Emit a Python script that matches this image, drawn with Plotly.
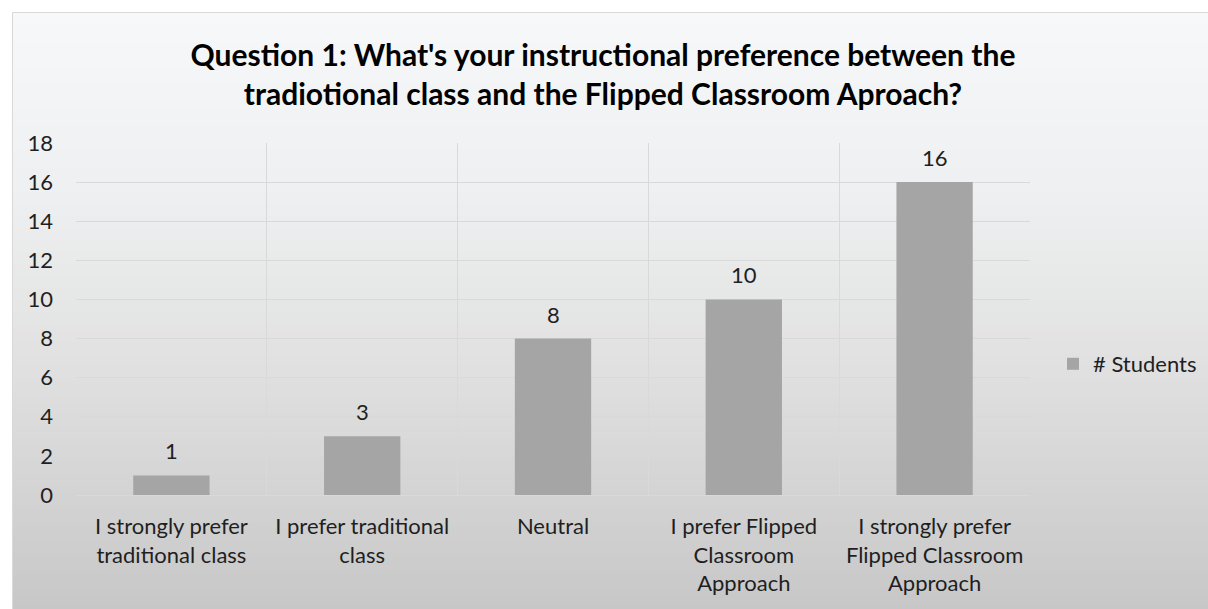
import plotly.graph_objects as go

categories = [
    "I strongly prefer<br>traditional class",
    "I prefer traditional<br>class",
    "Neutral",
    "I prefer Flipped<br>Classroom<br>Approach",
    "I strongly prefer<br>Flipped Classroom<br>Approach",
]
students = [1, 3, 8, 10, 16]
series_name = "# Students"
title_text = ("<b>Question 1: What's your instructional preference between the<br>"
              "tradiotional class and the Flipped Classroom Aproach?</b>")

W, H = 1208, 609
L, R, T, B = 76, 1030, 143, 495  # plot area in pixels

FONT = "Lato"
FS = 22
TXT = "#1f1f1f"

fig = go.Figure()
fig.add_trace(go.Bar(
    x=categories, y=students, name=series_name,
    marker=dict(color="#a5a5a5", line=dict(width=0)),
    showlegend=True, hoverinfo="x+y",
))

# data labels above bars
annotations = [
    dict(x=c, y=v, xref="x", yref="y", text=str(v), showarrow=False,
         yanchor="bottom", yshift=9, font=dict(family=FONT, size=FS, color=TXT))
    for c, v in zip(categories, students)
]

# background gradient (styling only)
def px2x(p):
    return (p - L) / (R - L)

def px2y(p):
    return (B - p) / (B - T)

stops = [(12, (246, 248, 250)), (200, (238, 239, 240)), (350, (226, 226, 226)),
         (480, (213, 213, 213)), (609, (199, 199, 199))]

def col_at(py):
    for (y0, c0), (y1, c1) in zip(stops[:-1], stops[1:]):
        if y0 <= py <= y1:
            t = (py - y0) / (y1 - y0)
            return tuple(round(a + (b - a) * t) for a, b in zip(c0, c1))
    return stops[-1][1]

shapes = []
step = 6
py = 12
while py < H:
    c = col_at(py + step / 2)
    shapes.append(dict(type="rect", xref="paper", yref="paper", layer="below",
                       x0=px2x(12), x1=px2x(W + 5), y0=px2y(py), y1=px2y(min(py + step, H + 5)),
                       fillcolor="rgb(%d,%d,%d)" % c, line=dict(width=0)))
    py += step
shapes.append(dict(type="rect", xref="paper", yref="paper", layer="below",
                   x0=px2x(12.5), x1=px2x(W + 5), y0=px2y(12.5), y1=px2y(H + 5),
                   fillcolor="rgba(0,0,0,0)", line=dict(width=1, color="#d9d9d9")))

fig.update_layout(
    width=W, height=H,
    margin=dict(l=L, r=W - R, t=T, b=H - B, pad=0, autoexpand=False),
    paper_bgcolor="white",
    plot_bgcolor="rgba(0,0,0,0)",
    font=dict(family=FONT, size=FS, color=TXT),
    title=dict(text=title_text, x=603 / W, xanchor="center", xref="container",
               y=1 - 66 / H, yanchor="top",
               font=dict(family=FONT, size=30, color="#000000")),
    bargap=0.6,
    shapes=shapes,
    annotations=annotations,
    legend=dict(x=px2x(1053), y=px2y(364), xanchor="left", yanchor="middle",
                bgcolor="rgba(0,0,0,0)", font=dict(size=FS, color=TXT),
                itemwidth=30),
    xaxis=dict(type="category", tickson="boundaries", showgrid=True,
               gridcolor="#d9d9d9", gridwidth=1, ticks="", showline=False,
               ticklabelstandoff=16, tickfont=dict(size=FS)),
    yaxis=dict(range=[0, 18], dtick=2, showgrid=True, gridcolor="#d9d9d9",
               gridwidth=1, zeroline=True, zerolinecolor="#d9d9d9", zerolinewidth=1,
               ticks="", showline=False, ticklabelstandoff=22, tickfont=dict(size=FS)),
)

fig.write_html("out.html", config={"displayModeBar": False},
               post_script="document.body.style.margin='0';document.body.style.padding='0';")
